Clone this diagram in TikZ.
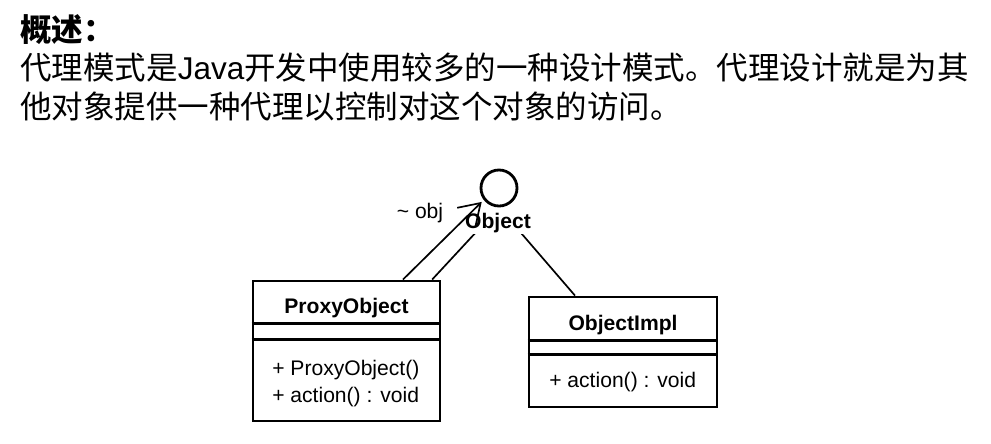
\documentclass[tikz,border=0pt]{standalone}
\usepackage{fontspec}
\setmainfont{Liberation Sans}
\newfontfamily\cjk{Noto Sans CJK SC}
\usepackage{tikz}
\usetikzlibrary{shapes.geometric, arrows.meta, positioning, calc}

\begin{document}
\begin{tikzpicture}[
    x=0.025cm, y=-0.025cm,
    intro/.style={anchor=west, inner sep=0pt, font=\fontsize{22.4}{26}\selectfont},
    classbox/.style={rectangle, draw, line width=2pt, fill=white},
    classname/.style={inner sep=0pt, font=\fontsize{15}{18}\selectfont\bfseries},
    members/.style={anchor=west, inner sep=0pt, align=left, font=\fontsize{15}{19}\selectfont},
    sep/.style={line width=1.6pt},
    conn/.style={line width=1.2pt, shorten >=10pt},
    assoc/.style={line width=1.2pt, -{Straight Barb[length=5mm, width=6.5mm, line width=1.2pt]}},
]
\useasboundingbox (0,0) rectangle (991,443);

\node[intro, font=\fontsize{22.4}{26}\selectfont\bfseries] (title) at (20,30) {\cjk 概述：};
\node[intro] (line1) at (20,68) {{\cjk 代理模式是}Java{\cjk 开发中使用较多的一种设计模式。代理设计就是为其}};
\node[intro] (line2) at (20,107) {\cjk 他对象提供一种代理以控制对这个对象的访问。};

\node[classbox, minimum width=4.675cm, minimum height=3.5cm] (proxy) at (346.5,351) {};
\draw[sep] ([yshift=-1.1cm]proxy.north west) -- ([yshift=-1.1cm]proxy.north east);
\draw[sep] ([yshift=-1.5cm]proxy.north west) -- ([yshift=-1.5cm]proxy.north east);
\node[classname] (proxyname) at (346.5,308) {ProxyObject};
\node[members] (proxyops) at (272,383.5) {+ ProxyObject()\\+ action() : void};

\node[classbox, minimum width=4.7cm, minimum height=2.75cm] (impl) at (623,352) {};
\draw[sep] ([yshift=-1.125cm]impl.north west) -- ([yshift=-1.125cm]impl.north east);
\draw[sep] ([yshift=-1.475cm]impl.north west) -- ([yshift=-1.475cm]impl.north east);
\node[classname] (implname) at (623,325) {ObjectImpl};
\node[members] (implops) at (549,382) {+ action() : void};

\node[circle, draw, line width=2pt, minimum size=0.9cm] (iface) at (499,188) {};

\draw[conn] ([xshift=2.14cm]proxy.north) -- (iface.south);
\draw[conn] ([xshift=-1.2cm]impl.north) -- (iface.south);

\node[classname, fill=white, inner sep=1pt] (ifacename) at (498,223) {Object};
\draw[assoc, shorten >=2pt] ([xshift=1.41cm]proxy.north) -- (iface.218);
\node[inner sep=0pt, font=\fontsize{15}{18}\selectfont] (objlabel) at (420,213) {\textasciitilde{} obj};
\end{tikzpicture}
\end{document}
